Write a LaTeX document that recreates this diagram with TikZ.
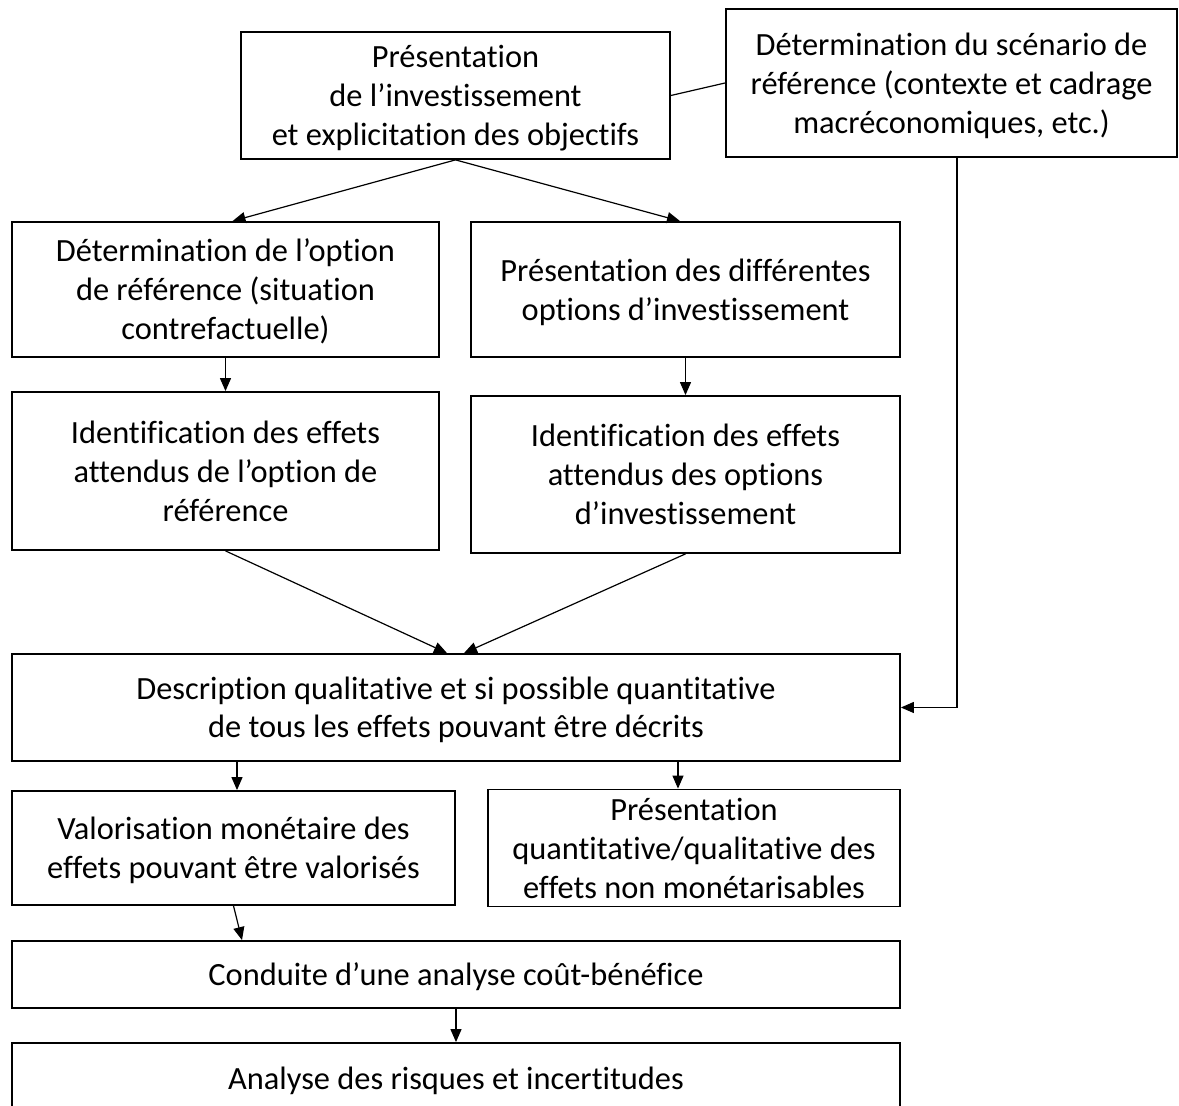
\documentclass[tikz,border=0pt]{standalone}
\usepackage{fontspec}
\setmainfont{Carlito}[Ligatures=NoCommon]
\usetikzlibrary{arrows.meta}
\newcommand\boxtext[1]{\raisebox{-1.75pt}[\height][\depth]{\begin{tabular}{@{}c@{}}#1\end{tabular}}}
\tikzset{
  box/.style={draw, line width=0.9pt, rectangle, inner sep=0pt,
    font=\fontsize{16.2}{19.5}\selectfont},
  arr/.style={line width=0.6pt, -{Triangle[length=6.5pt,width=5.5pt]}},
  ln/.style={line width=0.6pt}
}
\begin{document}
\begin{tikzpicture}[x=0.5pt,y=-0.5pt]
\clip (0,0) rectangle (1179,1106);
\useasboundingbox (0,0) rectangle (1179,1106);
\node[box, minimum width=429*0.5pt, minimum height=127*0.5pt] (A) at (455.5,95.5)
  {\boxtext{Présentation\\de l’investissement\\et explicitation des objectifs}};
\node[box, minimum width=451*0.5pt, minimum height=148*0.5pt] (B) at (951.5,83)
  {\boxtext{Détermination du scénario de\\référence (contexte et cadrage\\macréconomiques, etc.)}};
\node[box, minimum width=427*0.5pt, minimum height=135*0.5pt] (C) at (225.5,289.5)
  {\boxtext{Détermination de l’option\\de référence (situation\\contrefactuelle)}};
\node[box, minimum width=429*0.5pt, minimum height=135*0.5pt] (D) at (685.5,289.5)
  {\boxtext{Présentation des différentes\\options d’investissement}};
\node[box, minimum width=427*0.5pt, minimum height=158*0.5pt] (E) at (225.5,471)
  {\boxtext{Identification des effets\\attendus de l’option de\\référence}};
\node[box, minimum width=429*0.5pt, minimum height=157*0.5pt] (F) at (685.5,474.5)
  {\boxtext{Identification des effets\\attendus des options\\d’investissement}};
\node[box, minimum width=888*0.5pt, minimum height=107*0.5pt, font=\fontsize{16.2}{19}\selectfont] (G) at (456,707.5)
  {\boxtext{Description qualitative et si possible quantitative\\de tous les effets pouvant être décrits}};
\node[box, minimum width=443*0.5pt, minimum height=114*0.5pt] (H) at (233.5,848)
  {\boxtext{Valorisation monétaire des\\effets pouvant être valorisés}};
\node[box, minimum width=412*0.5pt, minimum height=114*0.5pt] (I) at (694,848)
  {\boxtext{Présentation\\quantitative/qualitative des\\effets non monétarisables}};
\node[box, minimum width=888*0.5pt, minimum height=67*0.5pt] (J) at (456,974.5)
  {\boxtext{Conduite d’une analyse coût-bénéfice}};
\node[box, minimum width=888*0.5pt, minimum height=70*0.5pt] (K) at (456,1078)
  {\boxtext{Analyse des risques et incertitudes}};

\draw[ln] (A.east) -- (B.west);
\draw[arr] (A.south) -- ([xshift=3.5pt]C.north);
\draw[arr] (A.south) -- ([xshift=-2.75pt]D.north);
\draw[arr] (C.south) -- (C.south |- E.north);
\draw[arr] (D.south) -- (D.south |- F.north);
\draw[arr] (E.south) -- ([xshift=-4.5pt]G.north);
\draw[arr] (F.south) -- ([xshift=4pt]G.north);
\draw[arr] ([xshift=2.75pt]B.south) |- (G.east);
\draw[arr] ([xshift=1.75pt]H.north |- G.south) -- ([xshift=1.75pt]H.north);
\draw[arr] ([xshift=-8pt]I.north |- G.south) -- ([xshift=-8pt]I.north);
\draw[arr] (H.south) -- ([xshift=4.25pt]H.south |- J.north);
\draw[arr] (J.south) -- (K.north);
\end{tikzpicture}
\end{document}
